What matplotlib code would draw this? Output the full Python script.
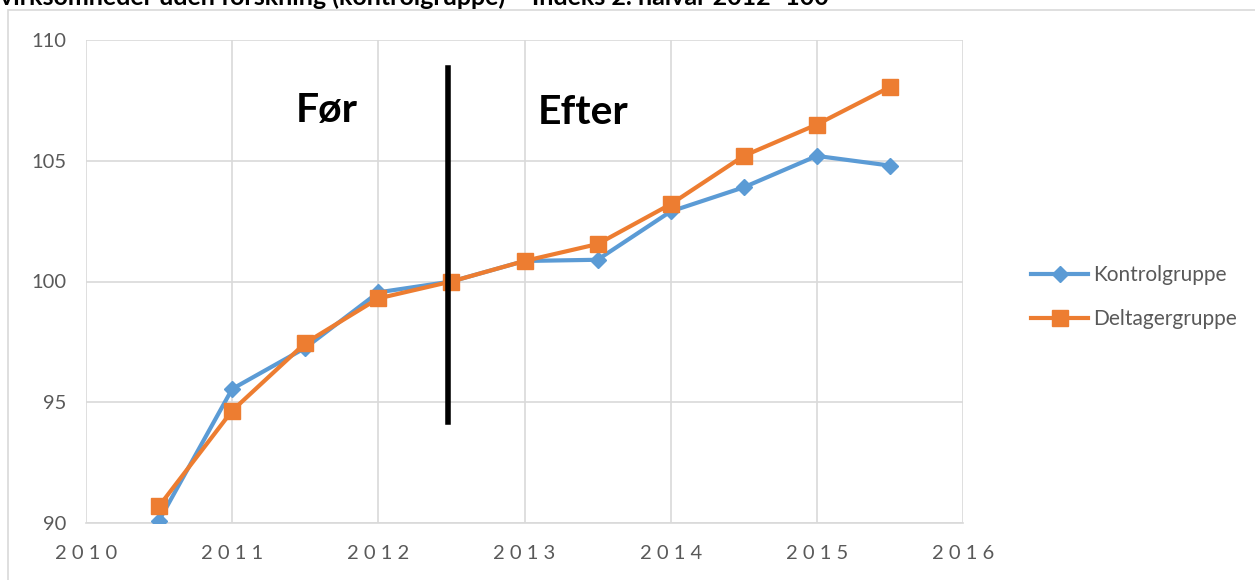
import matplotlib
matplotlib.use("Agg")
import matplotlib.pyplot as plt
from matplotlib.patches import Rectangle

# half-year points, index 2. halvår 2012 = 100
periods = [2010.5, 2011, 2011.5, 2012, 2012.5, 2013, 2013.5, 2014, 2014.5, 2015, 2015.5]
kontrol = [90.1, 95.55, 97.25, 99.55, 100.0, 100.85, 100.9, 102.9, 103.9, 105.2, 104.8]
deltager = [90.7, 94.65, 97.45, 99.3, 100.0, 100.85, 101.55, 103.2, 105.2, 106.5, 108.05]

year_ticks = [2010, 2011, 2012, 2013, 2014, 2015, 2016]
y_ticks = [90, 95, 100, 105, 110]

title = "virksomheder uden forskning (kontrolgruppe) – Indeks 2. halvår 2012=100"

plt.rcParams["font.family"] = ["Lato", "DejaVu Sans"]

W, H = 1255, 580
fig = plt.figure(figsize=(W / 100, H / 100), dpi=100)

# outer chart border (partly cut off by the crop)
fig.patches.append(Rectangle((8 / W, -0.1), 1.2, 1 - 10 / H + 0.1,
                             transform=fig.transFigure, fill=False,
                             edgecolor="#d9d9d9", linewidth=1.2))
# title mostly cropped away at the top
fig.text(0.0, 1 - 5 / H, title, fontsize=18, fontweight="bold",
         va="baseline", ha="left", color="black")

ax = fig.add_axes([86 / W, 57 / H, (963 - 86) / W, (523 - 40) / H])

ax.plot(periods, kontrol, color="#5b9bd5", linewidth=3, marker="D",
        markersize=8, label="Kontrolgruppe", zorder=3)
ax.plot(periods, deltager, color="#ed7d31", linewidth=3, marker="s",
        markersize=11, label="Deltagergruppe", zorder=4)

# before/after divider
ax.plot([2012.48, 2012.48], [94.2, 108.85], color="black", linewidth=4, zorder=5)
ax.text(2011.65, 107.1, "Før", fontsize=29.5, fontweight="bold", ha="center", va="center")
ax.text(2013.4, 107.0, "Efter", fontsize=29.5, fontweight="bold", ha="center", va="center")

ax.set_xlim(2010, 2016)
ax.set_ylim(90, 110)
ax.set_xticks(year_ticks)
ax.set_xticklabels([" ".join(str(y)) for y in year_ticks])
ax.set_yticks(y_ticks)
ax.grid(True, color="#d9d9d9", linewidth=1.2)
ax.set_axisbelow(True)
for side in ["top", "right", "left"]:
    ax.spines[side].set_visible(False)
ax.spines["bottom"].set_color("#d9d9d9")
ax.spines["bottom"].set_linewidth(1.2)
ax.tick_params(length=0, labelsize=14.5, colors="#595959", pad=14)
ax.tick_params(axis="x", labelsize=14.5, pad=16)

leg = ax.legend(loc="center left", bbox_to_anchor=(1.056, 0.467), frameon=False,
                fontsize=15, handlelength=2.75, handletextpad=0.25, labelspacing=1.15,
                labelcolor="#595959")

fig.savefig("out.png", dpi=100, facecolor="white")
